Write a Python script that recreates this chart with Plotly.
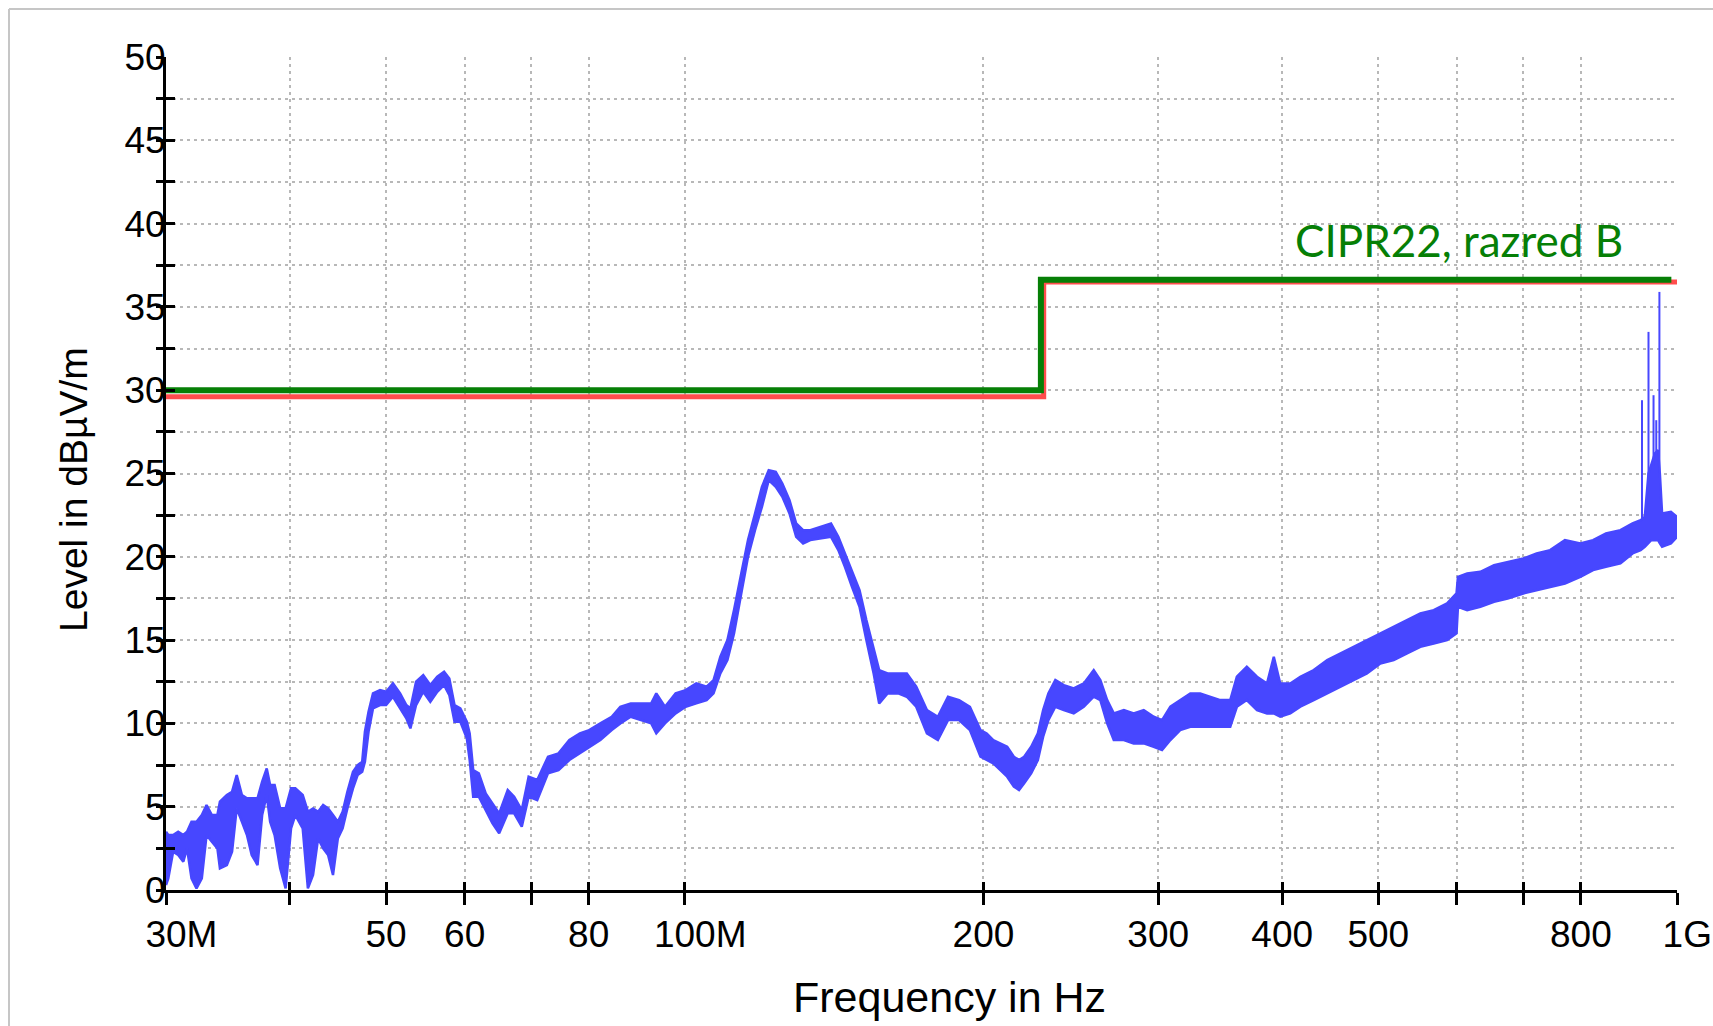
import math
import plotly.graph_objects as go

# ---------------- data ----------------
# measured emission, envelope of the noisy trace (MHz, dBuV/m)
freq_mhz = [30.0, 30.16, 30.5, 30.86, 31.23, 31.5, 31.83, 32.2, 32.6, 32.96, 33.37, 33.8, 34.0,
            34.55, 34.97, 35.35, 35.78, 36.2, 36.6, 37.1, 37.5, 37.9, 38.2, 38.6, 39.1, 39.6,
            40.1, 40.5, 41.2, 41.7, 42.2, 42.7, 43.2, 43.7, 44.2, 44.7, 45.2, 45.7, 46.3, 46.8,
            47.3, 47.6, 48.0, 48.5, 49.3, 50.0, 50.8, 51.65, 52.4, 52.9, 53.6, 54.5, 55.4, 56.3,
            57.2, 57.9, 58.6, 59.4, 60.3, 60.7, 61.2, 62.0, 63.0, 64.0, 65.0, 66.3, 67.3, 68.5,
            69.6, 71.0, 72.8, 74.6, 76.5, 78.4, 80.1, 82.2, 84.4, 86.1, 88.2, 90.3, 92.5, 93.6,
            95.5, 97.9, 100.2, 102.7, 105.2, 106.9, 108.6, 110.4, 112.1, 114.0, 115.8, 117.7,
            119.6, 121.5, 123.5, 125.4, 127.5, 129.5, 131.6, 133.8, 137.1, 140.4, 142.8, 145.0,
            147.4, 150.0, 152.4, 155.0, 157.0, 160.1, 164.1, 167.4, 171.1, 175.4, 179.9, 184.2,
            189.0, 193.8, 198.6, 201.5, 204.6, 208.0, 211.3, 214.6, 217.2, 219.8, 223.4, 226.9,
            229.7, 232.5, 236.3, 241.0, 246.6, 252.4, 258.3, 262.3, 266.5, 270.6, 277.0, 283.4,
            290.1, 296.9, 302.7, 308.6, 315.7, 323.2, 330.7, 338.5, 346.5, 354.6, 360.1, 368.5,
            377.3, 386.2, 392.3, 398.2, 407.6, 417.2, 430.4, 444.1, 457.8, 472.2, 487.0, 502.3,
            518.2, 534.5, 551.2, 568.6, 586.5, 599.5, 601.5, 614.5, 633.6, 654.0, 675.0, 700.0,
            722.0, 745.0, 771.0, 799.0, 823.0, 848.0, 877.0, 902.0, 919.0, 928.0, 936.0, 942.0,
            950.0, 957.0, 961.0, 966.0, 986.0, 1000.0]
level_upper = [3.5, 3.3, 3.3, 3.5, 3.3, 3.5, 4.1, 4.1, 4.5, 5.1, 4.5, 4.5, 5.3,
               5.7, 5.9, 6.9, 5.7, 5.5, 5.5, 5.5, 6.5, 7.3, 6.3, 6.3, 4.9, 4.9,
               6.1, 6.1, 5.7, 4.7, 4.9, 4.7, 5.1, 4.9, 4.5, 4.1, 4.7, 5.9, 7.1, 7.5,
               7.7, 9.5, 10.7, 11.8, 12.0, 11.9, 12.4, 11.8, 11.1, 10.9, 12.5, 12.9, 12.3, 12.8,
               13.1, 12.7, 11.1, 10.9, 10.1, 9.4, 7.2, 7.0, 5.8, 5.2, 4.6, 6.0, 5.6, 4.8,
               6.8, 6.6, 8.0, 8.2, 9.0, 9.4, 9.6, 10.0, 10.4, 11.0, 11.2, 11.2, 11.2, 11.8,
               11.0, 11.8, 12.0, 12.4, 12.2, 12.6, 14.0, 15.0, 16.8, 19.0, 21.0, 22.6,
               24.2, 25.2, 25.1, 24.4, 23.4, 22.0, 21.6, 21.6, 21.8, 22.0, 21.2, 20.2,
               19.2, 18.0, 16.2, 14.4, 13.2, 13.0, 13.0, 13.0, 12.2, 10.8, 10.4, 11.6,
               11.4, 11.0, 9.6, 9.4, 9.0, 8.8, 8.6, 8.0, 7.8, 8.0, 8.6, 9.4,
               10.8, 11.8, 12.6, 12.3, 12.1, 12.4, 13.2, 12.6, 11.4, 10.6, 10.8, 10.6,
               10.8, 10.4, 10.2, 11.0, 11.4, 11.8, 11.8, 11.6, 11.4, 11.4, 12.8, 13.4,
               12.8, 12.4, 14.0, 12.4, 12.4, 12.8, 13.2, 13.8, 14.2, 14.6, 15.0, 15.4,
               15.8, 16.2, 16.6, 16.8, 17.2, 17.8, 18.8, 19.0, 19.1, 19.5, 19.7, 19.9,
               20.2, 20.4, 21.0, 20.8, 21.0, 21.4, 21.6, 22.0, 22.2, 22.4, 25.0, 25.5,
               26.2, 26.4, 25.0, 22.6, 22.7, 22.4]
level_lower = [0.3, 0.7, 2.3, 2.1, 1.7, 2.5, 0.7, 0.1, 0.7, 3.3, 2.9, 2.5, 1.3,
               1.5, 2.3, 4.9, 4.1, 3.3, 2.1, 1.5, 4.5, 5.7, 4.1, 3.3, 1.3, 0.1,
               3.7, 4.5, 3.7, 0.1, 0.9, 3.1, 2.5, 2.1, 0.9, 3.1, 3.7, 4.9, 6.1, 6.9,
               7.1, 7.7, 9.5, 10.9, 11.1, 11.1, 11.6, 10.9, 10.3, 9.7, 11.1, 11.9, 11.3, 11.9,
               12.3, 11.7, 10.1, 10.1, 9.1, 7.8, 5.6, 5.6, 4.8, 4.0, 3.4, 4.6, 4.6, 3.8,
               5.6, 5.4, 7.0, 7.2, 7.8, 8.2, 8.6, 9.0, 9.6, 10.0, 10.4, 10.2, 10.0, 9.4,
               10.0, 10.6, 11.0, 11.2, 11.4, 11.8, 13.0, 13.8, 15.4, 17.8, 20.0, 21.6,
               23.0, 24.6, 24.2, 23.6, 22.6, 21.2, 20.8, 21.0, 21.1, 21.2, 20.4, 19.4,
               18.2, 17.0, 15.0, 13.0, 11.2, 11.8, 11.8, 11.6, 11.0, 9.4, 9.0, 10.2,
               10.2, 9.6, 8.0, 7.8, 7.6, 7.2, 6.8, 6.2, 6.0, 6.4, 7.0, 7.8,
               9.2, 10.2, 11.0, 10.8, 10.6, 11.0, 11.6, 11.4, 10.0, 9.0, 9.0, 8.8,
               8.8, 8.6, 8.4, 9.0, 9.6, 9.8, 9.8, 9.8, 9.8, 9.8, 11.0, 11.4,
               10.8, 10.6, 10.6, 10.4, 10.6, 11.0, 11.4, 11.8, 12.2, 12.6, 13.0, 13.6,
               13.8, 14.2, 14.6, 14.8, 15.0, 15.4, 17.0, 16.8, 17.0, 17.3, 17.5, 17.8,
               18.0, 18.2, 18.4, 18.8, 19.2, 19.4, 19.6, 20.2, 20.4, 20.6, 20.8, 21.0,
               21.0, 21.0, 20.8, 20.6, 20.8, 21.2]

# narrow spikes near 1 GHz
spike_freq = [922.0, 936.0, 947.0, 953.0, 960.0]
spike_peak = [29.4, 33.5, 29.7, 28.2, 35.9]
spike_base = [22.2, 24.5, 25.5, 26.0, 25.0]

# limit lines
limit_red_freq = [30.0, 230.0, 1000.0]
limit_red_level = [29.6, 36.5, 36.5]
limit_green_freq = [30.0, 228.5, 987.0]
limit_green_level = [30.0, 36.63, 36.63]
limit_label = "CIPR22, razred B"

x_tickvals = [30, 40, 50, 60, 70, 80, 100, 200, 300, 400, 500, 600, 700, 800, 1000]
x_ticklabels = ["30M", "", "50", "60", "", "80", "100M", "200", "300", "400", "500", "", "", "800", "1G"]
y_tickvals = [0, 2.5, 5, 7.5, 10, 12.5, 15, 17.5, 20, 22.5, 25, 27.5, 30, 32.5, 35, 37.5, 40, 42.5, 45, 47.5, 50]
y_ticklabels = ["0", "", "5", "", "10", "", "15", "", "20", "", "25", "", "30", "", "35", "", "40", "", "45", "", "50"]
x_title = "Frequency in Hz"
y_title = "Level in dB\u00b5V/m"

# ---------------- styling ----------------
BLUE = "#4747ff"
RED = "#ff4d4d"
GREEN = "#067f06"
GRID = "#b8b8b8"
FONT = "Liberation Sans, Arial, sans-serif"
NB = "\u00a0"

# labels whose number sits on the tick and the unit letter trails
def pad_label(t):
    if t.endswith("M"):
        return NB * 3 + t
    if t.endswith("G"):
        return NB * 2 + t
    return t

x_ticktext = [pad_label(t) for t in x_ticklabels]

spike_x, spike_y = [], []
for f, p, b in zip(spike_freq, spike_peak, spike_base):
    spike_x += [f, f, None]
    spike_y += [b, p, None]

fig = go.Figure()
fig.add_trace(go.Scatter(x=freq_mhz, y=level_lower, mode="lines",
                         line=dict(color=BLUE, width=2.5), hoverinfo="skip", showlegend=False))
fig.add_trace(go.Scatter(x=freq_mhz, y=level_upper, mode="lines", fill="tonexty",
                         fillcolor=BLUE, line=dict(color=BLUE, width=2.5), showlegend=False))
fig.add_trace(go.Scatter(x=spike_x, y=spike_y, mode="lines",
                         line=dict(color=BLUE, width=2), showlegend=False))
fig.add_trace(go.Scatter(x=limit_red_freq, y=limit_red_level, mode="lines", line_shape="hv",
                         line=dict(color=RED, width=5), showlegend=False))
fig.add_trace(go.Scatter(x=limit_green_freq, y=limit_green_level, mode="lines", line_shape="hv",
                         line=dict(color=GREEN, width=6), showlegend=False))
# carrier for the inner half of the crossing tick marks
fig.add_trace(go.Scatter(x=[], y=[], xaxis="x2", yaxis="y2", showlegend=False, hoverinfo="skip"))

xr = [math.log10(30), math.log10(1000)]
yr = [0, 50]

fig.update_layout(
    width=1713, height=1026, autosize=False,
    margin=dict(l=166, r=36, t=57, b=136),
    paper_bgcolor="white", plot_bgcolor="white",
    showlegend=False,
    font=dict(family=FONT, color="black"),
    xaxis=dict(
        type="log", range=xr, tickmode="array", tickvals=x_tickvals, ticktext=x_ticktext,
        ticks="outside", ticklen=12, tickwidth=3, tickcolor="black",
        showline=True, linecolor="black", linewidth=3,
        showgrid=True, gridcolor=GRID, gridwidth=2, griddash="3px,4px",
        tickfont=dict(size=37, family=FONT, color="black"), ticklabelstandoff=-2,
        ticklabeloverflow="allow",
        zeroline=False, automargin=False,
    ),
    yaxis=dict(
        range=yr, tickmode="array", tickvals=y_tickvals, ticktext=y_ticklabels,
        ticks="outside", ticklen=7, tickwidth=3, tickcolor="black",
        showline=True, linecolor="black", linewidth=3,
        showgrid=True, gridcolor=GRID, gridwidth=2, griddash="3px,4px",
        tickfont=dict(size=37, family=FONT, color="black"), ticklabelstandoff=-17,
        ticklabeloverflow="allow",
        zeroline=False, automargin=False,
    ),
    xaxis2=dict(
        type="log", range=xr, overlaying="x", anchor="y2", side="bottom",
        tickmode="array", tickvals=x_tickvals, ticks="inside", ticklen=8, tickwidth=3,
        tickcolor="black", showticklabels=False, showgrid=False, showline=False, zeroline=False,
    ),
    yaxis2=dict(
        range=yr, overlaying="y", anchor="x2", side="left",
        tickmode="array", tickvals=y_tickvals, ticks="inside", ticklen=9, tickwidth=3,
        tickcolor="black", showticklabels=False, showgrid=False, showline=False, zeroline=False,
    ),
    annotations=[
        dict(x=math.log10(603), y=39.0, xref="x", yref="y", text=limit_label, showarrow=False,
             xanchor="center", yanchor="middle",
             font=dict(family="Lato, Noto Sans, sans-serif", size=44, color=GREEN)),
        dict(x=0.5182, y=-0.1285, xref="paper", yref="paper", text=x_title, showarrow=False,
             xanchor="center", yanchor="middle",
             font=dict(family=FONT, size=43, color="black")),
        dict(x=-0.0609, y=0.4814, xref="paper", yref="paper", text=y_title, showarrow=False,
             textangle=-90, xanchor="center", yanchor="middle",
             font=dict(family=FONT, size=39, color="black")),
    ],
    shapes=[
        dict(type="line", xref="paper", yref="paper", x0=-0.1039, x1=1.03, y0=1.0576, y1=1.0576,
             line=dict(color="#c6c6c6", width=2)),
        dict(type="line", xref="paper", yref="paper", x0=-0.1039, x1=-0.1039, y0=1.0576, y1=-0.2,
             line=dict(color="#c6c6c6", width=2)),
    ],
)

fig.write_html("out.html")
